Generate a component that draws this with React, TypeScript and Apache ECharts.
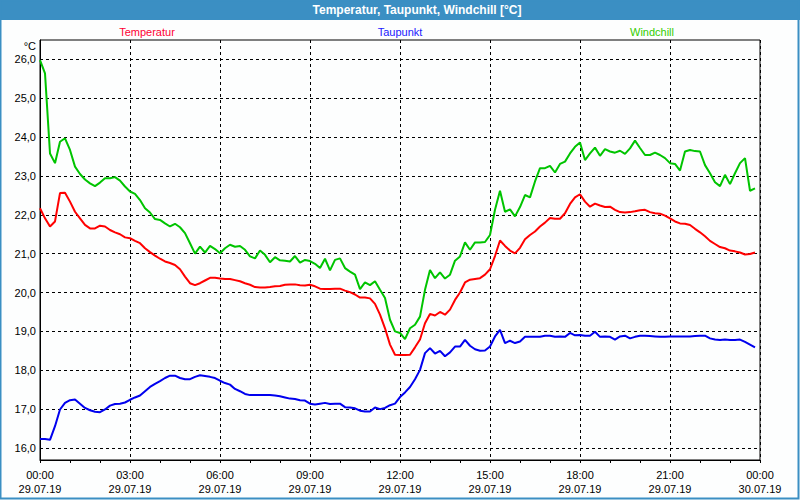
import React, { useEffect, useRef } from "react";
import * as echarts from "echarts";

// 10-minute samples from 29.07.19 00:00 to 23:50
const temperatur = [
  22.17, 21.91, 21.70, 21.83, 22.56, 22.57,
  22.34, 22.08, 21.91, 21.74, 21.65, 21.65,
  21.72, 21.70, 21.61, 21.55, 21.50, 21.42,
  21.40, 21.33, 21.27, 21.14, 21.04, 20.95,
  20.87, 20.80, 20.76, 20.71, 20.60, 20.41,
  20.24, 20.19, 20.24, 20.31, 20.38, 20.38,
  20.36, 20.35, 20.35, 20.32, 20.29, 20.24,
  20.20, 20.14, 20.13, 20.13, 20.14, 20.16,
  20.17, 20.20, 20.21, 20.21, 20.19, 20.18,
  20.20, 20.16, 20.10, 20.09, 20.09, 20.10,
  20.10, 20.05, 20.01, 19.95, 19.87, 19.87,
  19.85, 19.71, 19.43, 19.08, 18.66, 18.40,
  18.39, 18.39, 18.40, 18.59, 18.79, 19.21,
  19.45, 19.41, 19.50, 19.43, 19.56, 19.81,
  20.00, 20.26, 20.33, 20.35, 20.37, 20.46,
  20.60, 20.94, 21.34, 21.20, 21.08, 21.01,
  21.15, 21.37, 21.48, 21.57, 21.70, 21.80,
  21.92, 21.90, 21.90, 22.04, 22.28, 22.45,
  22.53, 22.34, 22.21, 22.29, 22.24, 22.20,
  22.21, 22.13, 22.07, 22.06, 22.07, 22.09,
  22.12, 22.13, 22.07, 22.04, 22.03, 21.98,
  21.91, 21.83, 21.78, 21.77, 21.74, 21.64,
  21.55, 21.45, 21.33, 21.25, 21.17, 21.14,
  21.08, 21.06, 21.03, 20.98, 20.99, 21.03,
];

const taupunkt = [
  16.23, 16.23, 16.21, 16.56, 16.99, 17.16,
  17.23, 17.25, 17.14, 17.03, 16.97, 16.93,
  16.92, 16.99, 17.09, 17.13, 17.14, 17.17,
  17.24, 17.30, 17.35, 17.46, 17.57, 17.65,
  17.72, 17.80, 17.86, 17.86, 17.80, 17.77,
  17.77, 17.83, 17.87, 17.85, 17.83, 17.80,
  17.73, 17.67, 17.63, 17.52, 17.46, 17.39,
  17.36, 17.36, 17.36, 17.36, 17.36, 17.35,
  17.33, 17.30, 17.27, 17.26, 17.23, 17.22,
  17.14, 17.12, 17.14, 17.16, 17.13, 17.14,
  17.14, 17.05, 17.04, 17.02, 16.96, 16.94,
  16.94, 17.04, 17.00, 17.03, 17.10, 17.14,
  17.31, 17.43, 17.57, 17.77, 18.01, 18.44,
  18.57, 18.43, 18.50, 18.36, 18.46, 18.61,
  18.61, 18.78, 18.63, 18.54, 18.50, 18.51,
  18.61, 18.87, 19.04, 18.70, 18.76, 18.70,
  18.74, 18.86, 18.86, 18.86, 18.86, 18.89,
  18.89, 18.86, 18.87, 18.86, 18.96, 18.90,
  18.91, 18.89, 18.89, 18.99, 18.86, 18.87,
  18.86, 18.79, 18.87, 18.89, 18.82, 18.86,
  18.89, 18.89, 18.88, 18.87, 18.86, 18.86,
  18.87, 18.87, 18.87, 18.87, 18.87, 18.88,
  18.89, 18.89, 18.82, 18.79, 18.78, 18.79,
  18.78, 18.78, 18.79, 18.73, 18.66, 18.59,
];

const windchill = [
  25.98, 25.64, 23.58, 23.33, 23.88, 23.97,
  23.67, 23.24, 23.05, 22.91, 22.81, 22.74,
  22.83, 22.94, 22.94, 22.97, 22.88, 22.73,
  22.60, 22.54, 22.38, 22.17, 22.06, 21.89,
  21.87, 21.78, 21.70, 21.77, 21.68, 21.53,
  21.27, 21.00, 21.18, 21.03, 21.20, 21.12,
  21.01, 21.14, 21.23, 21.18, 21.20, 21.10,
  20.93, 20.88, 21.08, 20.97, 20.78, 20.91,
  20.83, 20.82, 20.80, 20.94, 20.77, 20.84,
  20.81, 20.74, 20.63, 20.87, 20.57, 20.84,
  20.88, 20.63, 20.54, 20.46, 20.09, 20.26,
  20.19, 20.29, 20.07, 19.86, 19.30, 19.00,
  18.96, 18.80, 19.08, 19.17, 19.38, 20.07,
  20.58, 20.37, 20.52, 20.36, 20.46, 20.82,
  20.93, 21.29, 21.10, 21.29, 21.29, 21.30,
  21.48, 22.13, 22.62, 22.08, 22.14, 21.96,
  22.20, 22.51, 22.45, 22.86, 23.20, 23.20,
  23.26, 23.09, 23.31, 23.37, 23.58, 23.75,
  23.86, 23.41, 23.58, 23.73, 23.52, 23.69,
  23.63, 23.60, 23.65, 23.57, 23.71, 23.91,
  23.72, 23.54, 23.54, 23.60, 23.54, 23.46,
  23.33, 23.31, 23.14, 23.63, 23.67, 23.64,
  23.63, 23.28, 23.07, 22.84, 22.74, 23.03,
  22.79, 23.07, 23.33, 23.46, 22.62, 22.68,
];

const timeLabels = ["00:00", "03:00", "06:00", "09:00", "12:00", "15:00", "18:00", "21:00", "00:00"];
const dateLabels = ["29.07.19", "29.07.19", "29.07.19", "29.07.19", "29.07.19", "29.07.19", "29.07.19", "29.07.19", "30.07.19"];
const yTicks = [16, 17, 18, 19, 20, 21, 22, 23, 24, 25, 26];

const FONT = "'Liberation Sans', Arial, sans-serif";
const BLUE_BAR = "#3b8fc3";

export default function App() {
  const ref = useRef<HTMLDivElement>(null);

  useEffect(() => {
    if (!ref.current) return;
    const chart = echarts.init(ref.current, undefined, { renderer: "svg" });
    const toPairs = (arr: number[]) => arr.map((v, i) => [i / 6, v]);

    chart.setOption({
      animation: false,
      backgroundColor: "#fdfefe",
      grid: {
        left: 40,
        top: 40,
        width: 720,
        height: 420,
        show: true,
        borderColor: "#000",
        borderWidth: 1,
        backgroundColor: "transparent",
      },
      xAxis: {
        type: "value",
        min: 0,
        max: 24,
        interval: 3,
        axisLine: { show: true, lineStyle: { color: "#000", width: 1 } },
        axisTick: { show: true, length: 3, lineStyle: { color: "#000" } },
        minorTick: { show: true, splitNumber: 3, length: 3, lineStyle: { color: "#000" } },
        splitLine: { show: true, lineStyle: { color: "#000", type: [3, 3], width: 1 } },
        axisLabel: {
          margin: 8,
          fontFamily: FONT,
          fontSize: 11,
          lineHeight: 14,
          color: "#000",
          formatter: (v: number) => {
            const i = Math.round(v / 3);
            return `${timeLabels[i]}\n${dateLabels[i]}`;
          },
        },
      },
      yAxis: {
        type: "value",
        min: 15.69,
        max: 26.5,
        axisLine: { show: true, lineStyle: { color: "#000", width: 1 } },
        axisTick: { show: false, customValues: yTicks },
        splitLine: { show: true, lineStyle: { color: "#000", type: [3, 3], width: 1 } },
        axisLabel: {
          customValues: yTicks,
          margin: 4,
          fontFamily: FONT,
          fontSize: 11,
          color: "#000",
          formatter: (v: number) => v.toFixed(1).replace(".", ","),
        },
      },
      series: [
        {
          name: "Temperatur",
          type: "line",
          data: toPairs(temperatur),
          showSymbol: false,
          symbol: "none",
          lineStyle: { color: "#ff0000", width: 2 },
          itemStyle: { color: "#ff0000" },
          z: 3,
        },
        {
          name: "Taupunkt",
          type: "line",
          data: toPairs(taupunkt),
          showSymbol: false,
          symbol: "none",
          lineStyle: { color: "#0000ee", width: 2 },
          itemStyle: { color: "#0000ee" },
          z: 3,
        },
        {
          name: "Windchill",
          type: "line",
          data: toPairs(windchill),
          showSymbol: false,
          symbol: "none",
          lineStyle: { color: "#00c400", width: 2 },
          itemStyle: { color: "#00c400" },
          z: 3,
        },
      ],
      graphic: [
        { type: "rect", shape: { x: 0, y: 0, width: 800, height: 20 }, style: { fill: BLUE_BAR }, silent: true },
        {
          type: "rect",
          shape: { x: 0.5, y: 0.5, width: 798, height: 498 },
          style: { fill: "none", stroke: BLUE_BAR, lineWidth: 2 },
          silent: true,
        },
        {
          type: "text",
          x: 417,
          y: 10,
          style: {
            text: "Temperatur, Taupunkt, Windchill [°C]",
            fill: "#fff",
            font: `bold 12px ${FONT}`,
            textAlign: "center",
            textVerticalAlign: "middle",
          },
        },
        {
          type: "text",
          x: 147,
          y: 32,
          style: { text: "Temperatur", fill: "#ff0033", font: `11px ${FONT}`, textAlign: "center", textVerticalAlign: "middle" },
        },
        {
          type: "text",
          x: 400,
          y: 32,
          style: { text: "Taupunkt", fill: "#2020ff", font: `11px ${FONT}`, textAlign: "center", textVerticalAlign: "middle" },
        },
        {
          type: "text",
          x: 652,
          y: 32,
          style: { text: "Windchill", fill: "#33cc00", font: `11px ${FONT}`, textAlign: "center", textVerticalAlign: "middle" },
        },
        {
          type: "text",
          x: 36,
          y: 46,
          style: { text: "°C", fill: "#000", font: `11px ${FONT}`, textAlign: "right", textVerticalAlign: "middle" },
        },
      ],
    });

    return () => chart.dispose();
  }, []);

  return (
    <div
      ref={ref}
      style={{ position: "absolute", left: 0, top: 0, width: 800, height: 500 }}
    />
  );
}
